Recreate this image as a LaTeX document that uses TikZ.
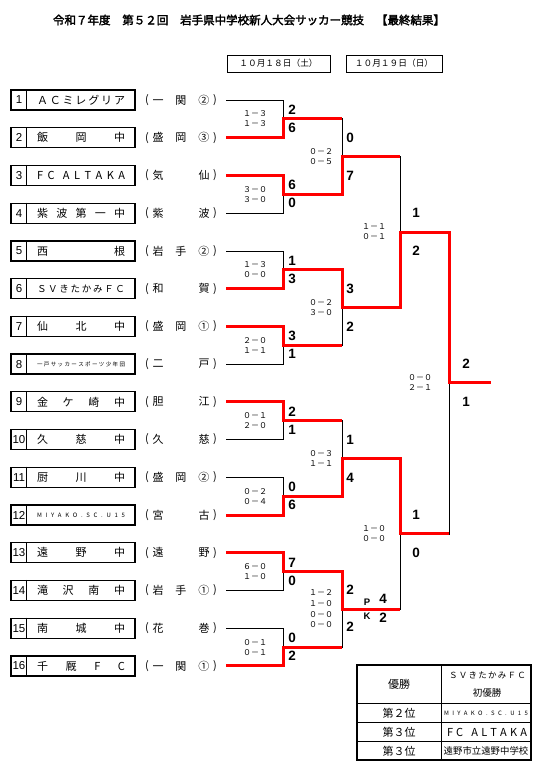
\documentclass[tikz,border=0pt]{standalone}
\usepackage{fontspec}
\setmainfont{Liberation Sans}
\newfontfamily\jp{Noto Sans CJK JP}[AutoFakeBold=2.5]

\begin{document}
\begin{tikzpicture}[x=1pt,y=-1pt,
  teambox/.style={draw,line width=1.3pt,minimum width=124pt,minimum height=20pt,inner sep=0pt},
  lose/.style={line width=0.8pt},
  win/.style={red,line width=3pt},
  total/.style={font=\bfseries\fontsize{13.5}{13.5}\selectfont,inner sep=0pt},
  half/.style={font=\jp\fontsize{8}{8}\selectfont,inner sep=0pt},
  jptext/.style={font=\jp\fontsize{11}{11}\selectfont,inner sep=0pt}]
\useasboundingbox (0,0) rectangle (542,773);

\node[font=\jp\bfseries\fontsize{11.5}{12}\selectfont] (title) at (249,20)
  {\makebox[392pt][s]{令和７年度 第５２回 岩手県中学校新人大会サッカー競技 【最終結果】}};
\node[draw,line width=0.9pt,minimum width=103pt,minimum height=17pt,font=\jp\fontsize{8.7}{8.7}\selectfont] (day1) at (278.5,63.5) {１０月１８日（土）};
\node[draw,line width=0.9pt,minimum width=96pt,minimum height=17pt,font=\jp\fontsize{8.7}{8.7}\selectfont] (day2) at (394,63.5) {１０月１９日（日）};

% teams
\foreach \i/\name/\area in {
  1/{Ａ Ｃ ミ レ グ リ ア}/{一 関 ②},
  2/{飯 岡 中}/{盛 岡 ③},
  3/{F C\hspace{4pt} A L T A K A}/{気 仙},
  4/{紫 波 第 一 中}/{紫 波},
  5/{西 根}/{岩 手 ②},
  6/{\fontsize{9.5}{9.5}\selectfont Ｓ Ｖ き た か み Ｆ Ｃ}/{和 賀},
  7/{仙 北 中}/{盛 岡 ①},
  8/{\fontsize{5.5}{5.5}\selectfont 一 戸 サ ッ カ ー ス ポ ー ツ 少 年 団}/{二 戸},
  9/{金 ケ 崎 中}/{胆 江},
  10/{久 慈 中}/{久 慈},
  11/{厨 川 中}/{盛 岡 ②},
  12/{\fontsize{6}{6}\selectfont M I Y A K O . S C . U 1 5}/{宮 古},
  13/{遠 野 中}/{遠 野},
  14/{滝 沢 南 中}/{岩 手 ①},
  15/{南 城 中}/{花 巻},
  16/{千 厩 F C}/{一 関 ①}}
{
  \pgfmathsetmacro\yy{100+(\i-1)*37.73}
  \node[teambox] (team\i) at (73,\yy) {};
  \draw[line width=1.3pt] ([xshift=16pt]team\i.north west) -- ([xshift=16pt]team\i.south west);
  \node[font=\fontsize{11.5}{11.5}\selectfont] (no\i) at (19,\yy) {\i};
  \node[jptext] (name\i) at (81,\yy) {\makebox[88pt][s]{\name}};
  \node[jptext] (lp\i) at (147,\yy) {(};
  \node[jptext] (area\i) at (181,\yy) {\makebox[57pt][s]{\area}};
  \node[jptext] (rp\i) at (215,\yy) {)};
}

% bracket
\def\matches{226/283/342/0/1/1, 226/283/342/2/3/2, 226/283/342/4/5/5, 226/283/342/6/7/6,
  226/283/342/8/9/8, 226/283/342/10/11/11, 226/283/342/12/13/12, 226/283/342/14/15/15,
  283/342/400/0.5/2.5/2.5, 283/342/400/4.5/6.5/4.5, 283/342/400/8.5/10.5/10.5, 283/342/400/12.5/14.5/12.5,
  342/400/449/1.5/5.5/5.5, 342/400/449/9.5/13.5/9.5,
  400/449/491/3.5/11.5/3.5}
\foreach \xp/\xc/\xn/\ua/\ub/\uw in \matches
  \draw[lose] (\xp,{100+\ua*37.73}) -| (\xc,{100+\ub*37.73}) -- (\xp,{100+\ub*37.73});
\foreach \xp/\xc/\xn/\ua/\ub/\uw in \matches
  \draw[win] (\xp,{100+\uw*37.73}) -| (\xc,{100+(\ua+\ub)/2*37.73}) -- (\xn,{100+(\ua+\ub)/2*37.73});

% scores, round 1
\foreach \k/\ta/\tb/\ha/\hb in {1/2/6/１－３/１－３, 2/6/0/３－０/３－０, 3/1/3/１－３/０－０, 4/3/1/２－０/１－１,
  5/2/1/０－１/２－０, 6/0/6/０－２/０－４, 7/7/0/６－０/１－０, 8/0/2/０－１/０－１}
{
  \pgfmathsetmacro\ym{100+(2*\k-1.5)*37.73}
  \node[total] (ra\k) at (292,{\ym-9}) {\ta};
  \node[total] (rb\k) at (292,{\ym+9}) {\tb};
  \node[half] (ha\k) at (255,{\ym-5}) {\ha};
  \node[half] (hb\k) at (255,{\ym+5}) {\hb};
}
% round 2
\foreach \k/\ta/\tb/\ha/\hb in {1/0/7/０－２/０－５, 2/3/2/０－２/３－０, 3/1/4/０－３/１－１}
{
  \pgfmathsetmacro\ym{100+(4*\k-2.5)*37.73}
  \node[total] (sa\k) at (350,{\ym-19}) {\ta};
  \node[total] (sb\k) at (350,{\ym+19}) {\tb};
  \node[half] (ia\k) at (321,{\ym-5}) {\ha};
  \node[half] (ib\k) at (321,{\ym+5}) {\hb};
}
\node[total] (sa4) at (350,590) {2};
\node[total] (sb4) at (350,627) {2};
\node[half] (ia4) at (321,593) {１－２};
\node[half] (ib4) at (321,604) {１－０};
\node[half] (ic4) at (321,615) {０－０};
\node[half] (id4) at (321,625) {０－０};
\node[font=\bfseries\fontsize{9.5}{9.5}\selectfont] (pkP) at (367,602) {P};
\node[font=\bfseries\fontsize{9.5}{9.5}\selectfont] (pkK) at (367,616) {K};
\node[total] (pka) at (383,599) {4};
\node[total] (pkb) at (383,618) {2};
% semifinals
\foreach \k/\ta/\tb/\ha/\hb in {1/1/2/１－１/０－１, 2/1/0/１－０/０－０}
{
  \pgfmathsetmacro\ym{100+(8*\k-4.5)*37.73}
  \node[total] (ua\k) at (416,{\ym-19}) {\ta};
  \node[total] (ub\k) at (416,{\ym+19}) {\tb};
  \node[half] (ja\k) at (374,{\ym-5}) {\ha};
  \node[half] (jb\k) at (374,{\ym+5}) {\hb};
}
% final
\node[total] (fa) at (466,364) {2};
\node[total] (fb) at (466,402) {1};
\node[half] (ka) at (420,378) {０－０};
\node[half] (kb) at (420,388) {２－１};

% result table
\draw[line width=1.2pt] (357,665) rectangle (531,760);
\draw[lose] (441,665) -- (441,760);
\foreach \yy in {703,722,741}
  \draw[lose] (357,\yy) -- (531,\yy);
\node[jptext] (champ) at (399,684) {優勝};
\node[jptext,font=\jp\fontsize{8.5}{8.5}\selectfont] (champname) at (487,675) {\makebox[76pt][s]{Ｓ Ｖ き た か み Ｆ Ｃ}};
\node[jptext,font=\jp\fontsize{9.5}{9.5}\selectfont] (champnote) at (487,693) {初優勝};
\node[jptext] (second) at (399,713) {第２位};
\node[jptext] (secondname) at (486,713) {\makebox[84pt][s]{\fontsize{6}{6}\selectfont M I Y A K O . S C . U 1 5}};
\node[jptext] (thirda) at (399,732) {第３位};
\node[jptext] (thirdaname) at (487,732) {\makebox[80pt][s]{F C\hspace{5pt} A L T A K A}};
\node[jptext] (thirdb) at (399,751) {第３位};
\node[jptext,font=\jp\fontsize{9.4}{9.4}\selectfont] (thirdbname) at (486,751) {遠野市立遠野中学校};
\end{tikzpicture}
\end{document}
